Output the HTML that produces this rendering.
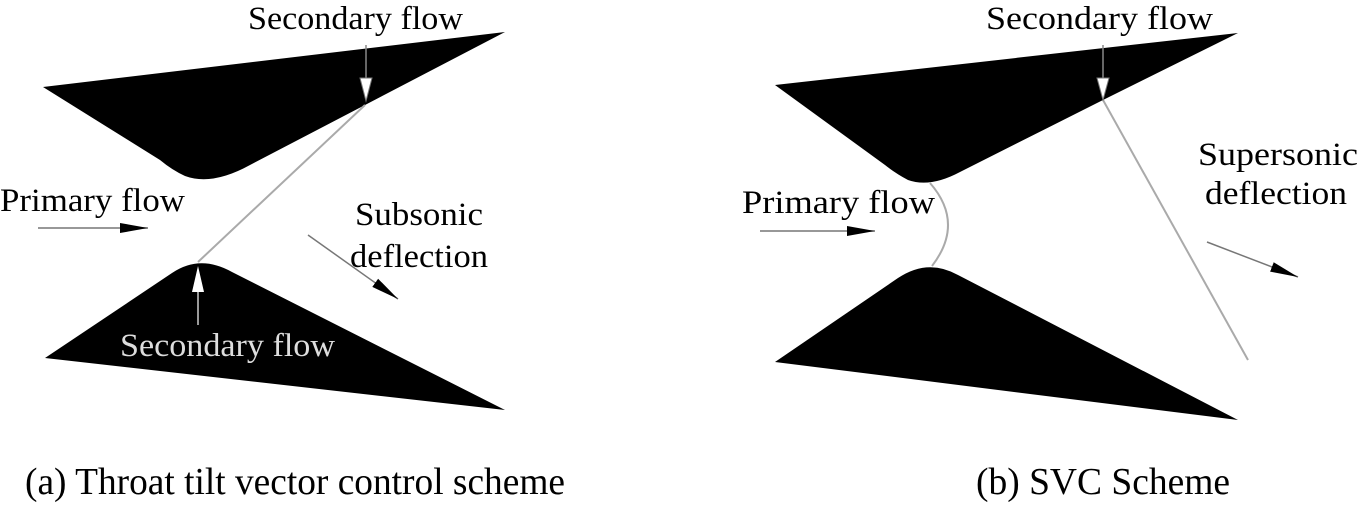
<!DOCTYPE html>
<html><head><style>html,body{margin:0;padding:0;background:#fff}svg{display:block}</style></head>
<body>
<svg width="1358" height="513" viewBox="0 0 1358 513" xmlns="http://www.w3.org/2000/svg" font-family="'Times New Roman', 'Liberation Serif', Tinos, 'DejaVu Serif', serif">
<defs>
<marker id="ah" markerWidth="30" markerHeight="12" refX="28" refY="6" orient="auto" markerUnits="userSpaceOnUse"><path d="M0,1 L28,6 L0,11 Z" fill="#000"/></marker>
</defs>
<!-- Left (a) -->
<path d="M43,87 L505,32 L365,105 L250,165 Q212,186 185,176 Q172,170 160,160 Z" fill="#000"/>
<path d="M45,358 L172,273 Q200,254 232,272 L505,410 Z" fill="#000"/>
<line x1="365" y1="105" x2="198" y2="262" stroke="#aaa" stroke-width="2"/>
<line x1="366" y1="45" x2="366" y2="80" stroke="#888" stroke-width="1.5"/>
<path d="M360,78 L372,78 L366,101 Z" fill="#fff" stroke="#777" stroke-width="1"/>
<line x1="198" y1="325" x2="198" y2="290" stroke="#ccc" stroke-width="1.5"/>
<path d="M192,292 L204,292 L198,266 Z" fill="#fff"/>
<line x1="38" y1="228" x2="148" y2="228" stroke="#777" stroke-width="1.5" marker-end="url(#ah)"/>
<line x1="308" y1="235" x2="398" y2="299" stroke="#777" stroke-width="1.5" marker-end="url(#ah)"/>
<text x="248" y="29" font-size="33" textLength="215" lengthAdjust="spacingAndGlyphs">Secondary flow</text>
<text x="0" y="211" font-size="33" textLength="185" lengthAdjust="spacingAndGlyphs">Primary flow</text>
<text x="355" y="225" font-size="33" textLength="128" lengthAdjust="spacingAndGlyphs">Subsonic</text>
<text x="350" y="267" font-size="33" textLength="138" lengthAdjust="spacingAndGlyphs">deflection</text>
<text x="120" y="356" font-size="33" fill="#ddd" textLength="215" lengthAdjust="spacingAndGlyphs">Secondary flow</text>
<!-- Right (b) -->
<path d="M775,85 L1238,33 L1103,100 L960,172 Q930,188 908,180 Q895,173 885,165 Z" fill="#000"/>
<path d="M775,362 L898,278 Q928,258 958,275 L1238,420 Z" fill="#000"/>
<path d="M930,183 Q965,223 932,266" fill="none" stroke="#aaa" stroke-width="2"/>
<line x1="1103" y1="100" x2="1248" y2="360" stroke="#aaa" stroke-width="2"/>
<line x1="1103" y1="45" x2="1103" y2="80" stroke="#888" stroke-width="1.5"/>
<path d="M1097,78 L1109,78 L1103,100 Z" fill="#fff" stroke="#777" stroke-width="1"/>
<line x1="760" y1="231" x2="875" y2="231" stroke="#777" stroke-width="1.5" marker-end="url(#ah)"/>
<line x1="1207" y1="242" x2="1298" y2="277" stroke="#777" stroke-width="1.5" marker-end="url(#ah)"/>
<text x="986" y="29" font-size="33" textLength="227" lengthAdjust="spacingAndGlyphs">Secondary flow</text>
<text x="742" y="213" font-size="33" textLength="193" lengthAdjust="spacingAndGlyphs">Primary flow</text>
<text x="1198" y="165" font-size="33" textLength="160" lengthAdjust="spacingAndGlyphs">Supersonic</text>
<text x="1205" y="204" font-size="33" textLength="142" lengthAdjust="spacingAndGlyphs">deflection</text>
<!-- captions -->
<text x="25" y="494" font-size="38" textLength="540" lengthAdjust="spacingAndGlyphs">(a) Throat tilt vector control scheme</text>
<text x="976" y="494" font-size="38" textLength="254" lengthAdjust="spacingAndGlyphs">(b) SVC Scheme</text>
</svg>
</body></html>
